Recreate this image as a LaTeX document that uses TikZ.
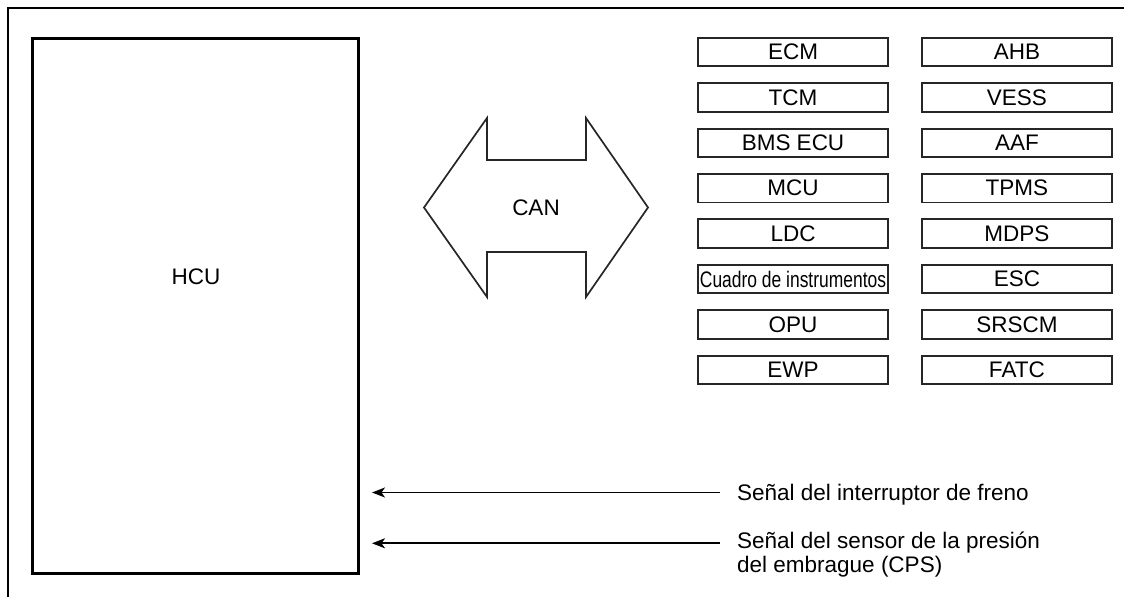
\documentclass[tikz,border=0pt]{standalone}
\usepackage{graphicx}
\usepackage{fontspec}
\setmainfont{Liberation Sans}
\usetikzlibrary{calc,positioning,arrows.meta}

\begin{document}
\begin{tikzpicture}[x=1pt,y=-1pt,node distance=15pt,font=\fontsize{22.5pt}{24pt}\selectfont]
    \tikzstyle{ecu}=[rectangle,draw=black!85,line width=1.9pt,minimum width=190pt,minimum height=28.5pt,inner sep=0]
    \tikzstyle{inv}=[inner sep=0]
    \tikzstyle{sig}=[-{Stealth[length=13pt,width=10pt,inset=3.5pt]},line width=1.7pt,shorten >=12pt]
    \useasboundingbox (0,0) rectangle (1124,597);
    \draw[line width=1.5pt] (8,597) -- (8,8) -- (1124,8) ;
    % HCU
    \node[draw,line width=2.6pt,minimum width=326.4pt,minimum height=535.4pt] (HCU) at (195.5,306) {} ;
    \node[inv] (hcutxt) at (196,277) {HCU} ;
    % CAN bus
    \draw[line width=1.7pt,black!85,line join=miter] (424,207.5) -- (487,118) -- (487,160) -- (586,160) -- (586,118)
        -- (648,207.5) -- (586,297) -- (586,252) -- (487,252) -- (487,297) -- cycle ;
    \node[inv] (CAN) at (536,208) {CAN} ;
    % units on the bus
    \node[ecu] (ECM) at (793,52) {ECM} ;
    \node[ecu] (TCM) [below =of ECM] {TCM} ;
    \node[ecu] (BMS) [below =of TCM] {BMS ECU} ;
    \node[ecu] (MCU) [below =of BMS] {MCU} ;
    \node[ecu] (LDC) [below =of MCU] {LDC} ;
    \node[ecu] (cluster) [below =of LDC] {\scalebox{0.775}[1]{Cuadro de instrumentos}} ;
    \node[ecu] (OPU) [below =of cluster] {OPU} ;
    \node[ecu] (EWP) [below =of OPU] {EWP} ;
    \node[ecu] (AHB) [right =32pt of ECM] {AHB} ;
    \node[ecu] (VESS) [below =of AHB] {VESS} ;
    \node[ecu] (AAF) [below =of VESS] {AAF} ;
    \node[ecu] (TPMS) [below =of AAF] {TPMS} ;
    \node[ecu] (MDPS) [below =of TPMS] {MDPS} ;
    \node[ecu] (ESC) [below =of MDPS] {ESC} ;
    \node[ecu] (SRSCM) [below =of ESC] {SRSCM} ;
    \node[ecu] (FATC) [below =of SRSCM] {FATC} ;
    % input signals
    \coordinate (fr) at (720,492.5) ;
    \coordinate (cp) at (720,543.3) ;
    \node[inv,anchor=base west] (freno) at (737,500.5) {Señal del interruptor de freno} ;
    \node[inv,anchor=base west,align=left] (cps) at (737,572) {Señal del sensor de la presión\\del embrague (CPS)} ;
    \draw[sig] (fr) -- (fr -| HCU.east) ;
    \draw[sig] (cp) -- (cp -| HCU.east) ;
\end{tikzpicture}
\end{document}
